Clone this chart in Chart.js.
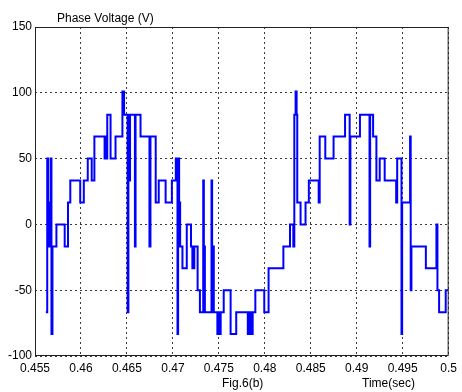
<!DOCTYPE html>
<html>
<head>
<meta charset="utf-8">
<title>Phase Voltage</title>
<script src="https://cdn.jsdelivr.net/npm/chart.js@4/dist/chart.umd.min.js"></script>
<style>
  html, body { margin: 0; padding: 0; background: #ffffff; }
  #wrap { width: 462px; height: 392px; }
</style>
</head>
<body>
<div id="wrap"><canvas id="chart" width="462" height="392"></canvas></div>
<script>
// Sample times (s) where the inverter output switches to a new level
const times = [
  0.45618, 0.45633, 0.45644, 0.45651, 0.45672, 0.45679, 0.45690, 0.45733, 0.45823, 0.45859,
  0.45884, 0.45992, 0.46031, 0.46074, 0.46117, 0.46146, 0.46257, 0.46264, 0.46272, 0.46286,
  0.46322, 0.46376, 0.46451, 0.46469, 0.46508, 0.46516, 0.46526, 0.46534, 0.46587, 0.46594,
  0.46648, 0.46745, 0.46756, 0.46813, 0.46846, 0.46921, 0.46989, 0.47032, 0.47050, 0.47057,
  0.47068, 0.47079, 0.47104, 0.47151, 0.47197, 0.47212, 0.47219, 0.47226, 0.47233, 0.47269,
  0.47294, 0.47330, 0.47337, 0.47341, 0.47348, 0.47420, 0.47427, 0.47438, 0.47445, 0.47484,
  0.47499, 0.47502, 0.47520, 0.47553, 0.47628, 0.47689, 0.47815, 0.47825, 0.47829, 0.47836,
  0.47840, 0.47847, 0.47851, 0.47868, 0.47897, 0.47994, 0.48041, 0.48202, 0.48274, 0.48310,
  0.48321, 0.48335, 0.48346, 0.48353, 0.48389, 0.48443, 0.48479, 0.48586, 0.48597, 0.48658,
  0.48748, 0.48873, 0.48923, 0.48931, 0.49035, 0.49139, 0.49146, 0.49178, 0.49214, 0.49250,
  0.49304, 0.49429, 0.49440, 0.49487, 0.49494, 0.49580, 0.49587, 0.49595, 0.49752, 0.49867,
  0.49878, 0.49896, 0.49968, 0.50000
];

// Phase voltage (V) held from each switching instant until the next one
const voltage = [
  -66.7, 50, 16.7, -16.7, 50, -83.3, -16.7, 0, -16.7, 16.7,
  33.3, 16.7, 33.3, 50, 33.3, 66.7, 50, 66.7, 50, 83.3,
  50, 66.7, 101, 83.3, -66.7, 83.3, 33.3, 83.3, -16.7, 83.3,
  66.7, -16.7, 66.7, 16.7, 33.3, 16.7, 33.3, 50, -83.3, 50,
  16.7, -16.7, -33.3, 0, -16.7, -33.3, -16.7, -33.3, -16.7, -50,
  -66.7, 33.3, -66.7, -16.7, -66.7, 33.3, -66.7, -16.7, -66.7, -83.3,
  -66.7, -83.3, -66.7, -50, -83.3, -66.7, -83.3, -66.7, -83.3, -66.7,
  -83.3, -66.7, -83.3, -66.7, -50, -66.7, -33.3, -16.7, 0, -16.7,
  83.3, 101, 83.3, 16.7, 0, 16.7, 33.3, 16.7, 66.7, 50,
  66.7, 83.3, 0, 66.7, 83.3, -16.7, 83.3, 66.7, 33.3, 50,
  33.3, 16.7, 50, -83.3, 16.7, 66.7, -50, -16.7, -33.3, 0,
  -50, -66.7, -50, -50
];

const xTicks = [0.455, 0.46, 0.465, 0.47, 0.475, 0.48, 0.485, 0.49, 0.495, 0.5];
const xTickLabels = ['0.455', '0.46', '0.465', '0.47', '0.475', '0.48', '0.485', '0.49', '0.495', '0.5'];
const yTicks = [-100, -50, 0, 50, 100, 150];
const yTickLabels = ['-100', '-50', '0', '50', '100', '150'];

const plotTitle = 'Phase Voltage (V)';
const figureCaption = 'Fig.6(b)';
const xAxisTitle = 'Time(sec)';

const FONT = '"Liberation Sans", Arial, sans-serif';

// Solid box around the plotting area plus the free-standing labels
const frameAndLabels = {
  id: 'frameAndLabels',
  afterDatasetsDraw(chart) {
    const { ctx, chartArea: a } = chart;
    ctx.save();
    ctx.strokeStyle = '#222222';
    ctx.lineWidth = 1;
    ctx.strokeRect(a.left + 0.5, a.top + 0.5, a.right - a.left - 1, a.bottom - a.top - 1);
    ctx.restore();
  },
  afterDraw(chart) {
    const { ctx } = chart;
    ctx.save();
    ctx.fillStyle = '#000000';
    ctx.font = '12px ' + FONT;
    ctx.textAlign = 'left';
    ctx.textBaseline = 'alphabetic';
    ctx.fillText(plotTitle, 57, 22);
    ctx.fillText(figureCaption, 222, 387);
    ctx.fillText(xAxisTitle, 362, 387);
    ctx.restore();
  }
};

const points = times.map((t, i) => ({ x: t, y: voltage[i] }));

new Chart(document.getElementById('chart'), {
  type: 'line',
  data: {
    datasets: [{
      data: points,
      borderColor: '#0000ff',
      borderWidth: 2,
      pointRadius: 0,
      stepped: true,
      fill: false,
      tension: 0
    }]
  },
  options: {
    responsive: false,
    animation: false,
    events: [],
    layout: { padding: { top: 27, right: 9, bottom: 0, left: 0 } },
    plugins: {
      legend: { display: false },
      tooltip: { enabled: false },
      title: { display: false }
    },
    scales: {
      x: {
        type: 'linear',
        min: 0.455,
        max: 0.5,
        afterBuildTicks(scale) { scale.ticks = xTicks.map(v => ({ value: v })); },
        afterFit(scale) { scale.height = 36; },
        ticks: {
          autoSkip: false,
          maxRotation: 0,
          padding: 5,
          color: '#000000',
          font: { family: FONT, size: 12 },
          callback(value) {
            const i = xTicks.findIndex(v => Math.abs(v - value) < 1e-9);
            return i >= 0 ? xTickLabels[i] : '';
          }
        },
        grid: { color: '#3a3a3a', lineWidth: 1, drawTicks: false, tickLength: 0 },
        border: { display: false, dash: [2, 3] }
      },
      y: {
        type: 'linear',
        min: -100,
        max: 150,
        afterBuildTicks(scale) { scale.ticks = yTicks.map(v => ({ value: v })); },
        afterFit(scale) { scale.width = 35; },
        ticks: {
          autoSkip: false,
          padding: 3,
          color: '#000000',
          font: { family: FONT, size: 12 },
          callback(value) {
            const i = yTicks.indexOf(value);
            return i >= 0 ? yTickLabels[i] : '';
          }
        },
        grid: { color: '#3a3a3a', lineWidth: 1, drawTicks: false, tickLength: 0 },
        border: { display: false, dash: [2, 3] }
      }
    }
  },
  plugins: [frameAndLabels]
});
</script>
</body>
</html>
